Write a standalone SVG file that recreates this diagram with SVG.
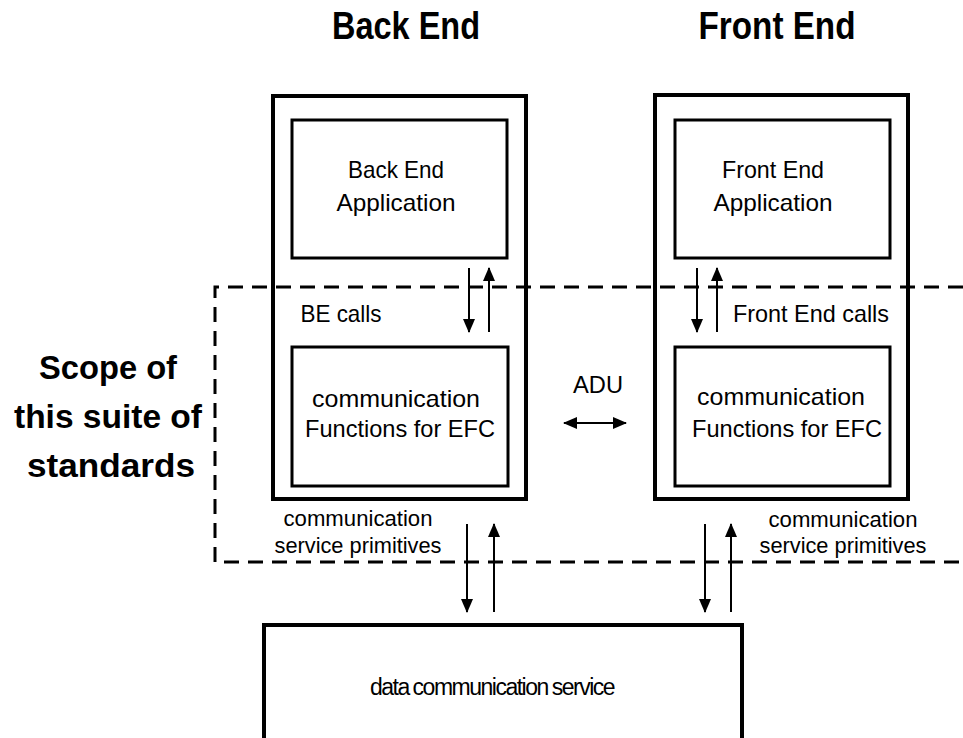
<svg xmlns="http://www.w3.org/2000/svg" width="963" height="738" viewBox="0 0 963 738">
<defs>
<marker id="ah2" markerWidth="14" markerHeight="12" refX="13" refY="6" orient="auto" markerUnits="userSpaceOnUse" viewBox="0 0 14 12">
<path d="M0,0 L14,6 L0,12 z" fill="#000"/>
</marker>
<marker id="ah2s" markerWidth="14" markerHeight="12" refX="1" refY="6" orient="auto" markerUnits="userSpaceOnUse" viewBox="0 0 14 12">
<path d="M14,0 L0,6 L14,12 z" fill="#000"/>
</marker>
</defs>
<style>
.outer{fill:none;stroke:#000;stroke-width:4}
.inner{fill:none;stroke:#000;stroke-width:3}
.dash{fill:none;stroke:#000;stroke-width:3;stroke-dasharray:15 9}
.arr{fill:none;stroke:#000;stroke-width:2;marker-end:url(#ah2)}
text{font-family:"Liberation Sans",Arial,sans-serif;fill:#000;text-anchor:middle}
.t{font-size:24px}
.s{font-size:22px}
.h{font-size:38px;font-weight:bold}
.sc{font-size:33px;font-weight:bold}
</style>
<rect width="963" height="738" fill="#fff"/>

<g id="titles">
<text class="h" x="406" y="39" textLength="148" lengthAdjust="spacingAndGlyphs">Back End</text>
<text class="h" x="777" y="39" textLength="157" lengthAdjust="spacingAndGlyphs">Front End</text>
</g>

<g id="scope">
<path class="dash" d="M963,287 H215 V562 H963"/>
<text class="sc" x="108" y="379" textLength="138" lengthAdjust="spacingAndGlyphs">Scope of</text>
<text class="sc" x="108" y="428" textLength="188" lengthAdjust="spacingAndGlyphs">this suite of</text>
<text class="sc" x="111" y="477" textLength="168" lengthAdjust="spacingAndGlyphs">standards</text>
</g>

<g id="backend">
<rect class="outer" x="273" y="96" width="253" height="403"/>
</g>
<g id="be-app">
<rect class="inner" x="292" y="120" width="215" height="138"/>
<text class="t" x="396" y="178" textLength="96" lengthAdjust="spacingAndGlyphs">Back End</text>
<text class="t" x="396" y="211" textLength="119" lengthAdjust="spacingAndGlyphs">Application</text>
</g>
<g id="be-comm">
<rect class="inner" x="292" y="347" width="216" height="139"/>
<text class="t" x="396" y="407" textLength="168" lengthAdjust="spacingAndGlyphs">communication</text>
<text class="t" x="400" y="437" textLength="190" lengthAdjust="spacingAndGlyphs">Functions for EFC</text>
</g>

<g id="frontend">
<rect class="outer" x="655" y="95" width="253" height="404"/>
</g>
<g id="fe-app">
<rect class="inner" x="675" y="120" width="215" height="138"/>
<text class="t" x="773" y="178" textLength="102" lengthAdjust="spacingAndGlyphs">Front End</text>
<text class="t" x="773" y="211" textLength="119" lengthAdjust="spacingAndGlyphs">Application</text>
</g>
<g id="fe-comm">
<rect class="inner" x="675" y="347" width="215" height="139"/>
<text class="t" x="781" y="405" textLength="168" lengthAdjust="spacingAndGlyphs">communication</text>
<text class="t" x="787" y="437" textLength="190" lengthAdjust="spacingAndGlyphs">Functions for EFC</text>
</g>

<g id="datacomm">
<rect class="outer" x="264" y="625" width="478" height="116"/>
<text x="492" y="695" font-size="23" letter-spacing="-1.5" word-spacing="-1">data communication service</text>
</g>

<g id="connectors">
<line class="arr" x1="469" y1="268" x2="469" y2="332"/>
<line class="arr" x1="489" y1="332" x2="489" y2="268"/>
<line class="arr" x1="697" y1="268" x2="697" y2="332"/>
<line class="arr" x1="717" y1="332" x2="717" y2="268"/>
<line class="arr" x1="467" y1="524" x2="467" y2="612"/>
<line class="arr" x1="494" y1="612" x2="494" y2="524"/>
<line class="arr" x1="705" y1="524" x2="705" y2="612"/>
<line class="arr" x1="731" y1="612" x2="731" y2="524"/>
<line x1="564" y1="423" x2="626" y2="423" stroke="#000" stroke-width="2" marker-start="url(#ah2s)" marker-end="url(#ah2)"/>
</g>

<g id="labels">
<text class="t" x="341" y="322" textLength="81" lengthAdjust="spacingAndGlyphs">BE calls</text>
<text class="t" x="811" y="322" textLength="156" lengthAdjust="spacingAndGlyphs">Front End calls</text>
<text class="t" x="598" y="393" textLength="50" lengthAdjust="spacingAndGlyphs">ADU</text>
<text class="s" x="358" y="526" textLength="149" lengthAdjust="spacingAndGlyphs">communication</text>
<text class="s" x="358" y="553" textLength="167" lengthAdjust="spacingAndGlyphs">service primitives</text>
<text class="s" x="843" y="527" textLength="149" lengthAdjust="spacingAndGlyphs">communication</text>
<text class="s" x="843" y="553" textLength="167" lengthAdjust="spacingAndGlyphs">service primitives</text>
</g>
</svg>
